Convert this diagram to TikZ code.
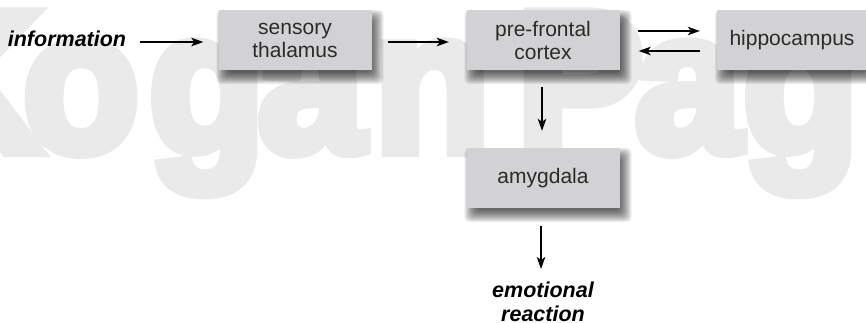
\documentclass[tikz,border=0pt]{standalone}
\usepackage{fontspec}
\setmainfont{Liberation Sans}
\newfontfamily\wmfont[BoldFeatures={FakeBold=6}]{Liberation Sans}
\usetikzlibrary{arrows.meta,calc}
\definecolor{boxgray}{HTML}{D2D2D4}
\definecolor{wmgray}{HTML}{EAEAEA}
\definecolor{boxtext}{HTML}{2B2B2B}
\pgfdeclarelayer{wm}
\pgfdeclarelayer{shad}
\pgfsetlayers{wm,shad,main}
\begin{document}
\begin{tikzpicture}[x=1pt,y=1pt,
  boxnode/.style={fill=boxgray, inner sep=0pt, minimum width=153pt, minimum height=60pt,
    align=center, text=boxtext, font=\fontsize{21}{23}\selectfont},
  lbl/.style={inner sep=0pt, align=center, font=\bfseries\itshape\fontsize{21.5}{24}\selectfont},
  arr/.style={line width=1.5pt, -{Stealth[length=12pt,width=8.5pt,inset=3pt]}},
  wmk/.style={anchor=base, inner sep=0pt, text=wmgray, font=\wmfont\bfseries\fontsize{200}{200}\selectfont}]
\useasboundingbox (0,0) rectangle (866,-323);
\clip (0,0) rectangle (866,-323);

% watermark
\begin{pgfonlayer}{wm}
\node[wmk] (wk) at (-28,-151) {\scalebox{0.95}[1]{K}};
\node[wmk] (wo) at (81,-151) {\scalebox{0.95}[1]{o}};
\node[wmk] (wg1) at (207,-151) {\scalebox{0.95}[1]{g}};
\node[wmk] (wa1) at (311,-151) {\scalebox{0.95}[1]{a}};
\node[wmk] (wn) at (432,-151) {\scalebox{0.95}[1]{n}};
\node[wmk] (wp) at (580,-151) {\scalebox{0.95}[1]{P}};
\node[wmk] (wa2) at (688,-151) {\scalebox{0.95}[1]{a}};
\node[wmk] (wg2) at (801,-151) {\scalebox{0.95}[1]{g}};
\end{pgfonlayer}

% boxes
\node[boxnode] (sens) at (295,-40) {sensory\\thalamus};
\node[boxnode] (pfc) at (543,-40) {pre-frontal\\cortex};
\node[boxnode, minimum width=150pt] (hip) at (792,-40) {hippocampus};
\node[boxnode] (amy) at (543,-178) {amygdala};

% labels
\node[lbl, anchor=base] (info) at (67,-47) {information};
\node[lbl, anchor=north] (emo) at (543,-281.5) {emotional\\reaction};

% shadows
\begin{pgfonlayer}{shad}
\foreach \n in {sens,pfc,hip,amy}{
  \foreach \s in {-5,...,7}{
    \fill[black, opacity=0.065, rounded corners=5pt]
      ($(\n.north west)+({5-(\s)},{-7+(\s)})$) rectangle ($(\n.south east)+({5+(\s)},{-7-(\s)})$);
  }
}
\end{pgfonlayer}

% connectors
\draw[arr] ($(info.east |- sens.west)+(14,-2)$) -- ($(sens.west)+(-15,-2)$);
\draw[arr] ($(sens.east)+(16,-2)$) -- ($(pfc.west)+(-17.5,-2)$);
\draw[arr] ($(pfc.east)+(18,9)$) -- ($(hip.west)+(-17,9)$);
\draw[arr] ($(hip.west)+(-17,-11)$) -- ($(pfc.east)+(19,-11)$);
\draw[arr] ($(pfc.south)+(-1,-17)$) -- ($(amy.north)+(-1,17)$);
\draw[arr] ($(amy.south)+(-2,-18)$) -- ($(emo.north)+(-2,12.5)$);
\end{tikzpicture}
\end{document}
